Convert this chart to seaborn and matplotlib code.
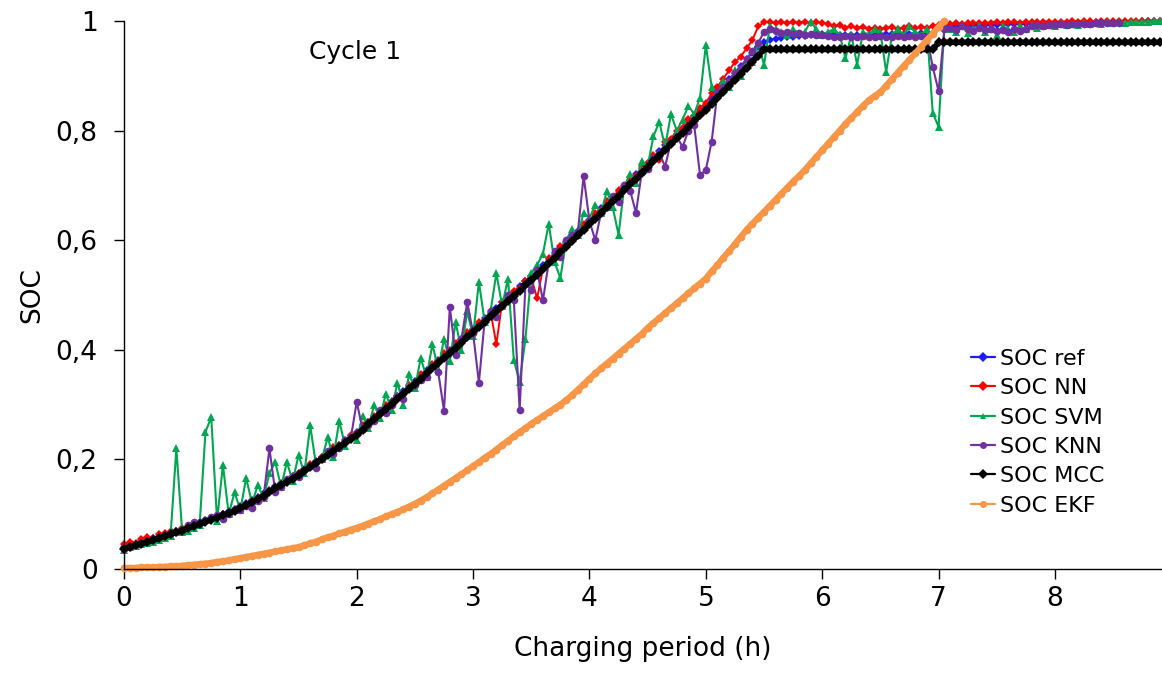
import matplotlib
matplotlib.use("Agg")
import numpy as np
import pandas as pd
import matplotlib.pyplot as plt
import seaborn as sns

# sampling instants (h), one sample every 3 minutes
time_h = [
    0.0, 0.05, 0.1, 0.15, 0.2, 0.25, 0.3, 0.35, 0.4, 0.45, 0.5,
    0.55, 0.6, 0.65, 0.7, 0.75, 0.8, 0.85, 0.9, 0.95, 1.0,
    1.05, 1.1, 1.15, 1.2, 1.25, 1.3, 1.35, 1.4, 1.45, 1.5,
    1.55, 1.6, 1.65, 1.7, 1.75, 1.8, 1.85, 1.9, 1.95, 2.0,
    2.05, 2.1, 2.15, 2.2, 2.25, 2.3, 2.35, 2.4, 2.45, 2.5,
    2.55, 2.6, 2.65, 2.7, 2.75, 2.8, 2.85, 2.9, 2.95, 3.0,
    3.05, 3.1, 3.15, 3.2, 3.25, 3.3, 3.35, 3.4, 3.45, 3.5,
    3.55, 3.6, 3.65, 3.7, 3.75, 3.8, 3.85, 3.9, 3.95, 4.0,
    4.05, 4.1, 4.15, 4.2, 4.25, 4.3, 4.35, 4.4, 4.45, 4.5,
    4.55, 4.6, 4.65, 4.7, 4.75, 4.8, 4.85, 4.9, 4.95, 5.0,
    5.05, 5.1, 5.15, 5.2, 5.25, 5.3, 5.35, 5.4, 5.45, 5.5,
    5.55, 5.6, 5.65, 5.7, 5.75, 5.8, 5.85, 5.9, 5.95, 6.0,
    6.05, 6.1, 6.15, 6.2, 6.25, 6.3, 6.35, 6.4, 6.45, 6.5,
    6.55, 6.6, 6.65, 6.7, 6.75, 6.8, 6.85, 6.9, 6.95, 7.0,
    7.05, 7.1, 7.15, 7.2, 7.25, 7.3, 7.35, 7.4, 7.45, 7.5,
    7.55, 7.6, 7.65, 7.7, 7.75, 7.8, 7.85, 7.9, 7.95, 8.0,
    8.05, 8.1, 8.15, 8.2, 8.25, 8.3, 8.35, 8.4, 8.45, 8.5,
    8.55, 8.6, 8.65, 8.7, 8.75, 8.8, 8.85, 8.9,
]

soc_ref = [
    0.040, 0.043, 0.046, 0.049, 0.052, 0.056, 0.059, 0.063, 0.066, 0.070, 0.073,
    0.077, 0.081, 0.085, 0.089, 0.093, 0.097, 0.101, 0.105, 0.110, 0.115,
    0.120, 0.126, 0.132, 0.138, 0.144, 0.151, 0.157, 0.163, 0.169, 0.176,
    0.183, 0.190, 0.198, 0.205, 0.212, 0.220, 0.227, 0.235, 0.243, 0.250,
    0.259, 0.269, 0.278, 0.287, 0.297, 0.306, 0.315, 0.325, 0.334, 0.344,
    0.353, 0.363, 0.372, 0.382, 0.391, 0.400, 0.410, 0.419, 0.429, 0.438,
    0.448, 0.458, 0.468, 0.477, 0.487, 0.496, 0.506, 0.516, 0.526, 0.535,
    0.545, 0.555, 0.566, 0.576, 0.586, 0.596, 0.606, 0.617, 0.627, 0.637,
    0.647, 0.658, 0.668, 0.679, 0.689, 0.699, 0.710, 0.720, 0.731, 0.741,
    0.752, 0.762, 0.773, 0.783, 0.794, 0.804, 0.815, 0.826, 0.837, 0.847,
    0.858, 0.870, 0.882, 0.894, 0.906, 0.918, 0.930, 0.942, 0.953, 0.962,
    0.966, 0.968, 0.969, 0.970, 0.971, 0.972, 0.973, 0.974, 0.975, 0.976,
    0.976, 0.975, 0.975, 0.975, 0.975, 0.975, 0.975, 0.975, 0.975, 0.976,
    0.976, 0.976, 0.976, 0.977, 0.977, 0.977, 0.978, 0.978, 0.978, 0.990,
    0.990, 0.991, 0.991, 0.991, 0.992, 0.992, 0.992, 0.993, 0.993, 0.993,
    0.994, 0.994, 0.994, 0.995, 0.995, 0.995, 0.996, 0.996, 0.996, 0.996,
    0.997, 0.997, 0.997, 0.997, 0.998, 0.998, 0.998, 0.998, 0.998, 0.999,
    0.999, 0.999, 0.999, 0.999, 1.000, 1.000, 1.000, 1.000,
]

soc_nn = [
    0.045, 0.050, 0.048, 0.055, 0.058, 0.056, 0.063, 0.065, 0.070, 0.068, 0.075,
    0.078, 0.083, 0.080, 0.088, 0.092, 0.095, 0.100, 0.103, 0.108, 0.112,
    0.118, 0.125, 0.130, 0.135, 0.143, 0.150, 0.155, 0.160, 0.170, 0.175,
    0.180, 0.192, 0.196, 0.205, 0.210, 0.222, 0.226, 0.232, 0.245, 0.248,
    0.262, 0.268, 0.280, 0.285, 0.300, 0.305, 0.316, 0.322, 0.335, 0.340,
    0.356, 0.360, 0.375, 0.380, 0.395, 0.398, 0.412, 0.418, 0.432, 0.436,
    0.450, 0.455, 0.470, 0.410, 0.488, 0.494, 0.508, 0.512, 0.525, 0.532,
    0.494, 0.548, 0.568, 0.572, 0.590, 0.592, 0.610, 0.612, 0.630, 0.635,
    0.650, 0.656, 0.672, 0.676, 0.692, 0.696, 0.715, 0.718, 0.735, 0.740,
    0.755, 0.746, 0.780, 0.785, 0.800, 0.805, 0.822, 0.826, 0.842, 0.850,
    0.868, 0.880, 0.895, 0.910, 0.925, 0.935, 0.950, 0.965, 0.990, 0.998,
    0.998, 0.997, 0.999, 0.996, 0.998, 0.997, 0.999, 0.996, 0.998, 0.997,
    0.995, 0.990, 0.992, 0.988, 0.990, 0.987, 0.989, 0.986, 0.988, 0.986,
    0.987, 0.989, 0.986, 0.988, 0.990, 0.987, 0.989, 0.988, 0.990, 0.993,
    0.995, 0.994, 0.996, 0.995, 0.996, 0.997, 0.996, 0.997, 0.997, 0.998,
    0.997, 0.998, 0.998, 0.997, 0.998, 0.999, 0.998, 0.999, 0.999, 0.998,
    0.999, 0.999, 1.000, 0.999, 1.000, 1.000, 0.999, 1.000, 1.000, 1.000,
    1.000, 1.000, 1.000, 1.000, 1.000, 1.000, 1.000, 1.000,
]

soc_svm = [
    0.035, 0.040, 0.042, 0.045, 0.047, 0.050, 0.053, 0.057, 0.060, 0.220, 0.068,
    0.070, 0.075, 0.080, 0.250, 0.277, 0.088, 0.190, 0.100, 0.140, 0.108,
    0.166, 0.120, 0.153, 0.130, 0.175, 0.195, 0.150, 0.195, 0.160, 0.208,
    0.175, 0.262, 0.190, 0.200, 0.240, 0.205, 0.270, 0.225, 0.240, 0.235,
    0.280, 0.258, 0.300, 0.275, 0.320, 0.290, 0.340, 0.300, 0.355, 0.330,
    0.385, 0.350, 0.410, 0.365, 0.420, 0.380, 0.450, 0.400, 0.470, 0.425,
    0.524, 0.450, 0.470, 0.540, 0.480, 0.530, 0.381, 0.342, 0.420, 0.540,
    0.555, 0.575, 0.630, 0.560, 0.531, 0.600, 0.620, 0.610, 0.650, 0.640,
    0.665, 0.650, 0.690, 0.660, 0.610, 0.700, 0.720, 0.705, 0.745, 0.735,
    0.790, 0.816, 0.770, 0.830, 0.800, 0.820, 0.845, 0.830, 0.860, 0.956,
    0.880, 0.865, 0.890, 0.880, 0.910, 0.900, 0.930, 0.925, 0.960, 0.920,
    0.990, 0.985, 0.980, 0.975, 0.985, 0.978, 0.980, 0.999, 0.985, 0.975,
    0.980, 0.985, 0.975, 0.932, 0.975, 0.920, 0.980, 0.975, 0.985, 0.980,
    0.907, 0.975, 0.985, 0.975, 0.990, 0.980, 0.975, 0.985, 0.832, 0.807,
    0.990, 0.985, 0.980, 0.990, 0.978, 0.985, 0.990, 0.980, 0.985, 0.975,
    0.990, 0.985, 0.980, 0.990, 0.985, 0.993, 0.988, 0.990, 0.993, 0.990,
    0.995, 0.992, 0.995, 0.993, 0.996, 0.994, 0.996, 0.995, 0.998, 0.996,
    0.998, 0.997, 0.999, 0.998, 0.999, 0.999, 1.000, 1.000,
]

# KNN series stops at 8.55 h
soc_knn = [
    0.036, 0.040, 0.045, 0.048, 0.052, 0.054, 0.058, 0.062, 0.066, 0.068, 0.072,
    0.080, 0.086, 0.085, 0.090, 0.095, 0.098, 0.092, 0.100, 0.110, 0.108,
    0.115, 0.112, 0.125, 0.132, 0.220, 0.140, 0.150, 0.165, 0.170, 0.168,
    0.180, 0.188, 0.185, 0.200, 0.215, 0.210, 0.220, 0.235, 0.240, 0.305,
    0.255, 0.262, 0.270, 0.290, 0.285, 0.300, 0.315, 0.310, 0.330, 0.335,
    0.345, 0.350, 0.370, 0.360, 0.289, 0.478, 0.390, 0.420, 0.487, 0.430,
    0.340, 0.455, 0.470, 0.460, 0.480, 0.500, 0.490, 0.290, 0.520, 0.510,
    0.545, 0.490, 0.560, 0.580, 0.570, 0.600, 0.610, 0.615, 0.717, 0.635,
    0.600, 0.650, 0.660, 0.680, 0.670, 0.700, 0.690, 0.650, 0.725, 0.730,
    0.750, 0.760, 0.734, 0.780, 0.790, 0.770, 0.800, 0.810, 0.719, 0.728,
    0.780, 0.870, 0.880, 0.890, 0.905, 0.915, 0.930, 0.945, 0.960, 0.980,
    0.985, 0.982, 0.978, 0.980, 0.976, 0.978, 0.975, 0.977, 0.974, 0.975,
    0.972, 0.971, 0.971, 0.972, 0.971, 0.971, 0.972, 0.971, 0.971, 0.972,
    0.971, 0.971, 0.972, 0.971, 0.972, 0.971, 0.972, 0.971, 0.916, 0.872,
    0.985, 0.988, 0.984, 0.990, 0.986, 0.982, 0.988, 0.984, 0.986, 0.981,
    0.984, 0.980, 0.985, 0.982, 0.986, 0.990, 0.992, 0.991, 0.993, 0.992,
    0.994, 0.993, 0.995, 0.994, 0.995, 0.995, 0.996, 0.996, 0.996, 0.997,
    0.997,
]

soc_mcc = [
    0.037, 0.040, 0.043, 0.046, 0.049, 0.053, 0.056, 0.060, 0.063, 0.067, 0.070,
    0.074, 0.078, 0.082, 0.086, 0.090, 0.094, 0.098, 0.102, 0.106, 0.111,
    0.116, 0.122, 0.128, 0.134, 0.140, 0.147, 0.153, 0.159, 0.165, 0.172,
    0.179, 0.186, 0.194, 0.201, 0.208, 0.216, 0.223, 0.230, 0.238, 0.245,
    0.254, 0.264, 0.273, 0.282, 0.292, 0.301, 0.310, 0.320, 0.329, 0.338,
    0.347, 0.357, 0.366, 0.376, 0.385, 0.394, 0.404, 0.413, 0.423, 0.432,
    0.442, 0.451, 0.461, 0.470, 0.480, 0.489, 0.499, 0.508, 0.518, 0.527,
    0.537, 0.547, 0.558, 0.568, 0.578, 0.588, 0.598, 0.609, 0.619, 0.629,
    0.639, 0.650, 0.660, 0.671, 0.681, 0.691, 0.702, 0.712, 0.723, 0.733,
    0.744, 0.754, 0.765, 0.775, 0.786, 0.796, 0.807, 0.817, 0.828, 0.838,
    0.849, 0.860, 0.871, 0.882, 0.893, 0.904, 0.915, 0.926, 0.937, 0.948,
    0.948, 0.948, 0.948, 0.948, 0.948, 0.948, 0.948, 0.948, 0.948, 0.948,
    0.948, 0.948, 0.948, 0.948, 0.948, 0.948, 0.948, 0.948, 0.948, 0.948,
    0.948, 0.948, 0.948, 0.948, 0.948, 0.948, 0.948, 0.948, 0.948, 0.961,
    0.961, 0.961, 0.961, 0.961, 0.961, 0.961, 0.961, 0.961, 0.961, 0.961,
    0.961, 0.961, 0.961, 0.961, 0.961, 0.961, 0.961, 0.961, 0.961, 0.961,
    0.961, 0.961, 0.961, 0.961, 0.961, 0.961, 0.961, 0.961, 0.961, 0.961,
    0.961, 0.961, 0.961, 0.961, 0.961, 0.961, 0.961, 0.961,
]

# EKF estimate stops once it reaches full charge (7.05 h)
soc_ekf = [
    0.002, 0.002, 0.002, 0.003, 0.003, 0.003, 0.004, 0.004, 0.005, 0.005, 0.006,
    0.007, 0.008, 0.009, 0.010, 0.011, 0.013, 0.014, 0.016, 0.018, 0.020,
    0.022, 0.024, 0.026, 0.028, 0.030, 0.032, 0.034, 0.036, 0.038, 0.040,
    0.043, 0.047, 0.050, 0.054, 0.058, 0.061, 0.065, 0.068, 0.072, 0.075,
    0.079, 0.083, 0.087, 0.091, 0.096, 0.100, 0.104, 0.109, 0.114, 0.119,
    0.125, 0.131, 0.138, 0.145, 0.152, 0.159, 0.166, 0.173, 0.180, 0.188,
    0.195, 0.203, 0.210, 0.218, 0.226, 0.234, 0.242, 0.250, 0.257, 0.265,
    0.272, 0.279, 0.286, 0.293, 0.300, 0.308, 0.317, 0.327, 0.337, 0.347,
    0.357, 0.366, 0.375, 0.384, 0.393, 0.402, 0.411, 0.420, 0.429, 0.440,
    0.449, 0.458, 0.467, 0.476, 0.485, 0.494, 0.503, 0.512, 0.521, 0.530,
    0.543, 0.555, 0.568, 0.580, 0.593, 0.606, 0.619, 0.630, 0.641, 0.652,
    0.663, 0.674, 0.685, 0.696, 0.707, 0.717, 0.728, 0.740, 0.752, 0.764,
    0.776, 0.788, 0.800, 0.812, 0.823, 0.834, 0.845, 0.855, 0.863, 0.870,
    0.882, 0.894, 0.906, 0.918, 0.929, 0.941, 0.953, 0.965, 0.977, 0.989,
    1.000,
]

labels = ["SOC ref", "SOC NN", "SOC SVM", "SOC KNN", "SOC MCC", "SOC EKF"]
y_ticks = [0, 0.2, 0.4, 0.6, 0.8, 1.0]
y_tick_labels = ["0", "0,2", "0,4", "0,6", "0,8", "1"]
x_ticks = [0, 1, 2, 3, 4, 5, 6, 7, 8]

sns.set_style("ticks")
plt.rcParams["font.family"] = ["DejaVu Sans"]
plt.rcParams["text.color"] = "black"
plt.rcParams["axes.labelcolor"] = "black"
plt.rcParams["xtick.color"] = "black"
plt.rcParams["ytick.color"] = "black"

fig, ax = plt.subplots(figsize=(11.62, 6.75), dpi=100)
fig.subplots_adjust(left=0.1067, right=1.0, bottom=0.157, top=0.9689)

# (values, colour, marker, marker size, line width)
styles = [
    (soc_ref, "#1a1aff", "D", 4.0, 1.4),
    (soc_nn, "#ff0000", "D", 4.0, 1.4),
    (soc_svm, "#00a650", "^", 6.0, 1.5),
    (soc_knn, "#7030a0", "o", 5.5, 1.5),
    (soc_mcc, "#000000", "D", 5.0, 4.0),
    (soc_ekf, "#f79646", "o", 5.5, 4.5),
]

for label, (vals, col, mk, ms, lw) in zip(labels, styles):
    df = pd.DataFrame({"t": time_h[:len(vals)], "soc": vals})
    sns.lineplot(data=df, x="t", y="soc", ax=ax, color=col, marker=mk,
                 markersize=ms, markeredgecolor=col, markeredgewidth=0,
                 linewidth=lw, label=label, estimator=None, sort=False,
                 clip_on=False)

ax.set_xlim(0, 8.92)
ax.set_ylim(0, 1)
ax.set_xticks(x_ticks)
ax.set_yticks(y_ticks)
ax.set_yticklabels(y_tick_labels)
ax.tick_params(axis="both", direction="out", length=7, width=1, labelsize=19)
ax.tick_params(axis="y", pad=12)
ax.tick_params(axis="x", pad=5)
sns.despine(ax=ax)
for s in ["left", "bottom"]:
    ax.spines[s].set_color("black")
    ax.spines[s].set_linewidth(1)

ax.set_xlabel("Charging period (h)", fontsize=19)
ax.set_ylabel("SOC", fontsize=19)
ax.xaxis.set_label_coords(0.5, -0.123)
ax.yaxis.set_label_coords(-0.076, 0.5)

ax.text(0.2225, 0.943, "Cycle 1", transform=ax.transAxes, ha="center", va="center", fontsize=18)

leg = ax.legend(loc="upper left", bbox_to_anchor=(962 / 1162, 1 - 340 / 675), bbox_transform=fig.transFigure,
                frameon=False, fontsize=16, handlelength=1.1, handletextpad=0.2, labelspacing=0.42,
                borderaxespad=0)
# legend keys are thin lines with small markers
for h in leg.get_lines():
    h.set_linewidth(1.6)
    h.set_markersize(5)

plt.savefig("out.png", dpi=100)
